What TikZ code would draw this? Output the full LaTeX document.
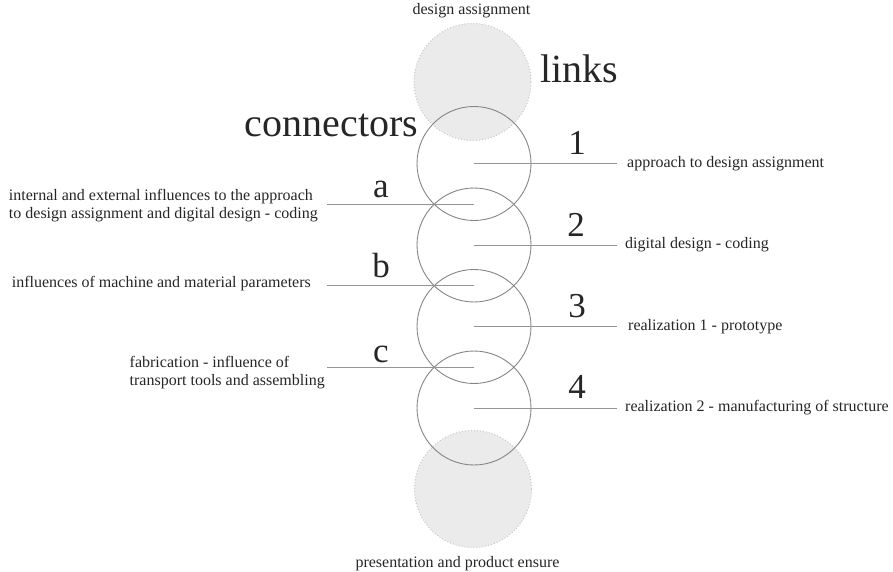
\documentclass[tikz,border=0pt]{standalone}
\usepackage{fontspec}
\setmainfont{Liberation Serif}
\usetikzlibrary{positioning,calc}

\begin{document}
\begin{tikzpicture}[x=1pt,y=-1pt,
        every node/.style={inner sep=0pt,text=black!85},
        ring/.style={circle,draw=black!48,line width=0.9pt,minimum size=114pt},
        blob/.style={circle,fill=black!8,draw=black!22,dotted,line width=1pt,minimum size=117pt},
        lead/.style={draw=black!42,line width=0.9pt},
        small/.style={font=\fontsize{16}{18}\selectfont},
        big/.style={font=\fontsize{40}{44}\selectfont},
        num/.style={font=\fontsize{35}{38}\selectfont,text depth=0pt}]
        \useasboundingbox (0,0) rectangle (893,572);
        % grey end discs
        \node[blob] (top) at (472.5,82) {};
        \node[blob] (bot) at (473,489) {};
        \node[small,anchor=base] (ttop) at (471.5,15) {design assignment};
        \node[small,anchor=base] (tbot) at (457.5,567) {presentation and product ensure};
        % chain of links
        \node[ring] (c1) at (474,163.5) {};
        \node[ring] (c2) at (474,245) {};
        \node[ring] (c3) at (474,326.5) {};
        \node[ring] (c4) at (474,408) {};
        \node[big,anchor=base] (hconn) at (331.5,137) {connectors};
        \node[big,anchor=base west] (hlink) at (540,83) {links};
        % links, right side
        \coordinate (e1) at ($(c1)+(143,0)$);
        \coordinate (e2) at ($(c2)+(143,0)$);
        \coordinate (e3) at ($(c3)+(143,0)$);
        \coordinate (e4) at ($(c4)+(143,0)$);
        \draw[lead] (c1.center) -- (e1);
        \draw[lead] (c2.center) -- (e2);
        \draw[lead] (c3.center) -- (e3);
        \draw[lead] (c4.center) -- (e4);
        \node[num,above=8.5pt] (n1) at ($(c1)+(103,0)$) {1};
        \node[num,above=8pt] (n2) at ($(c2)+(102,0)$) {2};
        \node[num,above=8.5pt] (n3) at ($(c3)+(103,0)$) {3};
        \node[num,above=9pt] (n4) at ($(c4)+(103,0)$) {4};
        \node[small,right=10pt of e1] (t1) {approach to design assignment};
        \node[small,right=8pt of e2] (t2) {digital design - coding};
        \node[small,right=11pt of e3] (t3) {realization 1 - prototype};
        \node[small,right=8pt of e4] (t4) {realization 2 - manufacturing of structure};
        % connectors, left side
        \coordinate (ja) at ($(c1)!0.5!(c2)$);
        \coordinate (jb) at ($(c2)!0.5!(c3)$);
        \coordinate (jc) at ($(c3)!0.5!(c4)$);
        \coordinate (ea) at ($(ja)+(-147,0)$);
        \coordinate (eb) at ($(jb)+(-147,0)$);
        \coordinate (ec) at ($(jc)+(-147,0)$);
        \draw[lead] (ja) -- (ea);
        \draw[lead] (jb) -- (eb);
        \draw[lead] (jc) -- (ec);
        \node[num,above=7pt] (la) at ($(ja)+(-93,0)$) {a};
        \node[num,above=8pt] (lb) at ($(jb)+(-93,0)$) {b};
        \node[num,above=5pt] (lc) at ($(jc)+(-93,0)$) {c};
        \node[small,align=left,left=9pt of ea,yshift=-1pt] (ta)
            {internal and external influences to the approach\\to design assignment and digital design - coding};
        \node[small,left=16pt of eb,yshift=2pt] (tb) {influences of machine and material parameters};
        \node[small,align=left,left=2pt of ec,yshift=-5pt] (tc)
            {fabrication - influence of\\transport tools and assembling};
\end{tikzpicture}
\end{document}
